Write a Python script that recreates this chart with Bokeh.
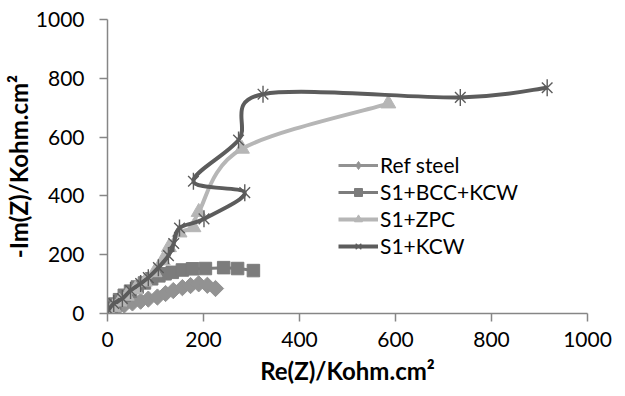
import math
from bokeh.plotting import figure
from bokeh.models import Range1d, FixedTicker, Legend, LegendItem, Title
from bokeh.embed import file_html
from bokeh.resources import INLINE

# Nyquist data, Re(Z) and -Im(Z) in Kohm.cm2
ref_re = [0, 5, 12, 22, 35, 52, 69, 85, 104, 121, 137, 156, 173, 190, 208, 225]
ref_im = [0, 6, 13, 21, 29, 36, 42, 49, 56, 68, 78, 88, 95, 101, 96, 85]

bcc_re = [2, 8, 15, 25, 35, 48, 62, 77, 92, 107, 120, 135, 156, 177, 204, 242, 271, 304]
bcc_im = [5, 18, 32, 47, 62, 76, 90, 104, 118, 128, 135, 140, 148, 152, 153, 156, 153, 146]

zpc_re = [2, 12, 25, 40, 58, 78, 98, 115, 128, 150, 179, 190, 280, 585]
zpc_im = [8, 22, 40, 60, 82, 108, 140, 180, 225, 275, 293, 345, 560, 714]

kcw_re = [2, 13, 31, 48, 69, 85, 106, 127, 138, 150, 201, 286, 179, 273, 324, 735, 916]
kcw_im = [12, 34, 51, 78, 102, 122, 156, 197, 238, 291, 322, 411, 450, 590, 746, 735, 768]

series_names = ["Ref steel", "S1+BCC+KCW", "S1+ZPC", "S1+KCW"]
x_ticks = [0, 200, 400, 600, 800, 1000]
y_ticks = [0, 200, 400, 600, 800, 1000]

FONT = "Lato"


def smooth_segments(xs, ys):
    """Cubic Bezier pieces of a Catmull-Rom style smoothed line through the points."""
    n = len(xs)
    out = dict(x0=[], y0=[], x1=[], y1=[], cx0=[], cy0=[], cx1=[], cy1=[])
    for i in range(n - 1):
        ip = max(i - 1, 0)
        inn = min(i + 2, n - 1)
        out["x0"].append(xs[i]); out["y0"].append(ys[i])
        out["x1"].append(xs[i + 1]); out["y1"].append(ys[i + 1])
        out["cx0"].append(xs[i] + (xs[i + 1] - xs[ip]) / 6)
        out["cy0"].append(ys[i] + (ys[i + 1] - ys[ip]) / 6)
        out["cx1"].append(xs[i + 1] - (xs[inn] - xs[i]) / 6)
        out["cy1"].append(ys[i + 1] - (ys[inn] - ys[i]) / 6)
    return out


p = figure(width=625, height=396, output_backend="svg", toolbar_location=None,
           x_range=Range1d(0, 1000), y_range=Range1d(0, 1000),
           min_border_left=107, min_border_right=38, min_border_top=19, min_border_bottom=83)
p.outline_line_color = None
p.xgrid.visible = False
p.ygrid.visible = False
p.background_fill_color = "white"
p.border_fill_color = "white"

for ax in (p.xaxis[0], p.yaxis[0]):
    ax.axis_line_color = "#868686"
    ax.axis_line_width = 1.5
    ax.major_tick_line_color = "#868686"
    ax.major_tick_line_width = 1.5
    ax.major_tick_in = 0
    ax.major_tick_out = 8
    ax.minor_tick_line_color = None
    ax.major_label_text_font = FONT
    ax.major_label_text_font_size = "21px"
    ax.major_label_text_color = "black"

p.xaxis.ticker = FixedTicker(ticks=x_ticks)
p.yaxis.ticker = FixedTicker(ticks=y_ticks)
p.xaxis.major_label_standoff = 10
p.yaxis.major_label_standoff = 15

# axis titles as side titles so they can be nudged along the axis
title_style = dict(align="center", text_font=FONT, text_font_size="24px",
                   text_font_style="bold", text_color="black")
p.add_layout(Title(text="Re(Z)/Kohm.cm²", offset=-19, standoff=9, **title_style), "below")
p.add_layout(Title(text="-Im(Z)/Kohm.cm²", offset=-14, standoff=0, **title_style), "left")

styles = [
    (ref_re, ref_im, "#929292", "diamond", 3.0),
    (bcc_re, bcc_im, "#7c7c7c", "square", 3.0),
    (zpc_re, zpc_im, "#b6b6b6", "triangle", 4.0),
    (kcw_re, kcw_im, "#5c5c5c", "star", 4.0),
]

items = []
for name, (xs, ys, color, marker, lw) in zip(series_names, styles):
    seg = smooth_segments(xs, ys)
    p.bezier(source=seg, x0="x0", y0="y0", x1="x1", y1="y1",
             cx0="cx0", cy0="cy0", cx1="cx1", cy1="cy1",
             line_color=color, line_width=lw)
    leg_line = p.line([xs[0], xs[1]], [ys[0], ys[1]], line_color=color, line_width=lw, visible=False)
    if marker == "diamond":
        p.scatter(xs, ys, marker="square", angle=math.pi / 4, size=11.5,
                  fill_color=color, line_color=color)
        # legend swatch uses the plain diamond marker
        marks = [p.scatter(xs[:1], ys[:1], marker="diamond", size=16, fill_color=color,
                           line_color=color, visible=False)]
    elif marker == "square":
        marks = [p.scatter(xs, ys, marker="square", size=12.5, fill_color=color, line_color=color)]
    elif marker == "triangle":
        marks = [p.scatter(xs, ys, marker="triangle", size=15, fill_color=color, line_color=color)]
    else:
        marks = [p.scatter(xs, ys, marker="x", size=15, line_color=color, line_width=1.4),
                 p.scatter(xs, ys, marker="dash", angle=math.pi / 2, size=17,
                           line_color=color, line_width=1.4)]
    items.append(LegendItem(label=name, renderers=[leg_line] + marks))

legend = Legend(items=items, location=(231, 55), orientation="vertical",
                label_text_font=FONT, label_text_font_size="21px", label_text_color="black",
                glyph_width=40, glyph_height=20, label_height=20, spacing=2,
                padding=0, margin=0, label_standoff=2,
                border_line_color=None, background_fill_alpha=0)
p.add_layout(legend, "center")

open("out.html", "w").write(file_html(p, INLINE))
